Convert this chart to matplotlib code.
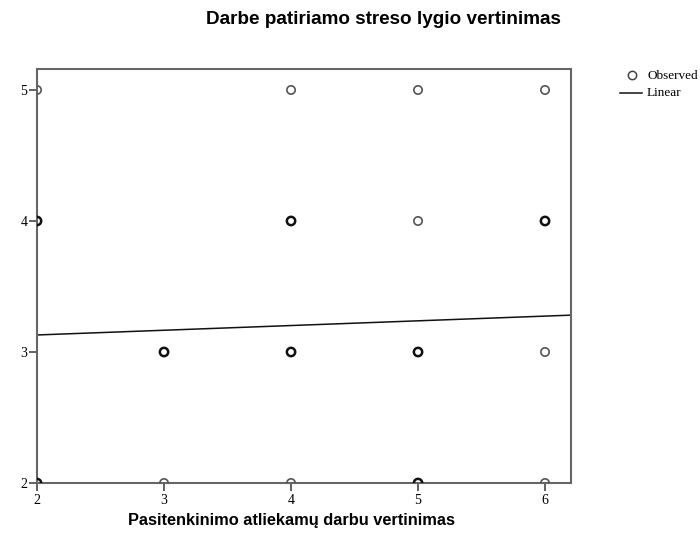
import matplotlib
matplotlib.use("Agg")
import matplotlib.pyplot as plt
import numpy as np

# Observed (x, y) pairs; "dense" points are drawn with a darker outline
x_light = [2, 4, 5, 6, 5, 6, 3, 4, 6]
y_light = [5, 5, 5, 5, 4, 3, 2, 2, 2]
x_dense = [2, 4, 6, 3, 4, 5, 2, 5]
y_dense = [4, 4, 4, 3, 3, 3, 2, 2]

# Linear fit coefficients
fit_intercept = 3.058
fit_slope = 0.036

x_ticks = [2, 3, 4, 5, 6]
y_ticks = [2, 3, 4, 5]

title = "Darbe patiriamo streso lygio vertinimas"
xlabel = "Pasitenkinimo atliekamų darbu vertinimas"

fig = plt.figure(figsize=(7.0, 5.33), dpi=100)
ax = fig.add_axes([0.0529, 0.0938, 0.7629, 0.7767])

xmin, xmax = 2.0, 6.205
ymin, ymax = 2.0, 5.16

ax.scatter(x_light, y_light, s=36, facecolors="none", edgecolors="#555555",
           linewidths=1.2, zorder=3)
ax.scatter(x_dense, y_dense, s=36, facecolors="none", edgecolors="#111111",
           linewidths=1.8, zorder=3)

xs = np.array([xmin, xmax])
ax.plot(xs, fit_intercept + fit_slope * xs, color="#111111", lw=1.1, zorder=2)

ax.set_xlim(xmin, xmax)
ax.set_ylim(ymin, ymax)
ax.set_xticks(x_ticks)
ax.set_yticks(y_ticks)

serif = ["Liberation Serif", "DejaVu Serif"]
for lab in ax.get_xticklabels() + ax.get_yticklabels():
    lab.set_fontfamily(serif)
    lab.set_fontsize(10)
ax.tick_params(axis="both", direction="out", length=6, width=1.3,
               color="#555555")
ax.tick_params(axis="x", pad=2)
ax.tick_params(axis="y", pad=1)

for sp in ax.spines.values():
    sp.set_color("#666666")
    sp.set_linewidth(1.5)

fig.text(383 / 700, 1 - 19 / 533, title, ha="center", va="center",
         fontsize=13.6, fontweight="bold", family=["Liberation Sans", "DejaVu Sans"])
fig.text(292 / 700, 1 - 521 / 533, xlabel, ha="center", va="center",
         fontsize=11.8, fontweight="bold", family=["Liberation Sans", "DejaVu Sans"])

# Legend drawn manually in figure coordinates
lax = fig.add_axes([0.83, 0.80, 0.17, 0.08])
lax.set_xlim(581, 700)
lax.set_ylim(102.6, 69.5)
lax.axis("off")
lax.plot([632], [78], marker="o", ms=6, mfc="none", mec="#444444", mew=1.1)
lax.text(647, 79, "Observed", va="center", ha="left", fontsize=9.5, family=serif)
lax.plot([620, 642], [92, 92], color="#111111", lw=1.1)
lax.text(647, 92, "Linear", va="center", ha="left", fontsize=9.5, family=serif)

fig.savefig("out.png", dpi=100)
